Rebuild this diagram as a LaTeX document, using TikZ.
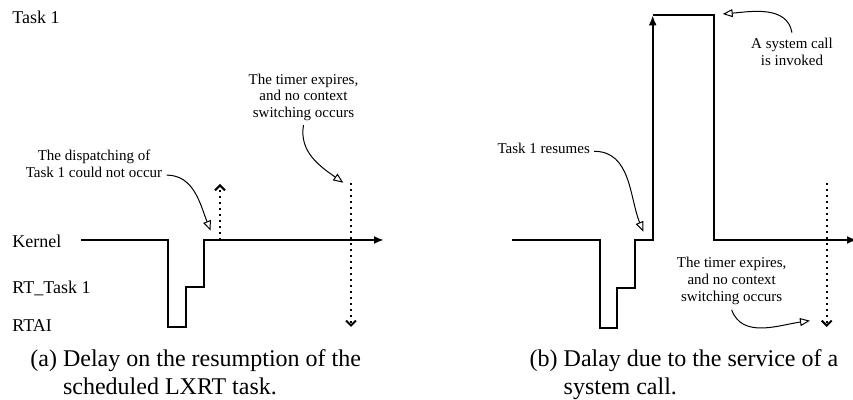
\documentclass[tikz,border=0pt]{standalone}
\usepackage{fontspec}
\setmainfont{Liberation Serif}
\usetikzlibrary{arrows.meta,positioning,calc}
\tikzset{%
  font=\fontsize{9}{10.8}\selectfont,>=Latex,
  lvl/.style     = {anchor=base west, inner sep=0pt},
  wave/.style    = {draw, line width=1pt, -{Latex[length=5pt,width=4pt]}},
  timer/.style   = {draw, line width=1pt, dotted, -{Straight Barb[length=2.5pt,width=5pt]}},
  note/.style    = {align=center, inner sep=0pt, font=\fontsize{7.5}{8.35}\selectfont},
  pointer/.style = {draw, line width=.5pt, -{Triangle[open,length=5pt,width=4pt]}},
  capt/.style    = {anchor=base west, inner sep=0pt, font=\fontsize{12}{14}\selectfont}
}

\begin{document}
\begin{tikzpicture}[x=.5pt,y=-.5pt]
  \useasboundingbox (0,0) rectangle (853,400);

  % (a) the dispatching is delayed
  \node[lvl] (task) at (12,23.3) {Task 1};
  \node[lvl] (kern) at (12,247.3) {Kernel};
  \node[lvl] (rtt)  at (12,294) {RT\_Task 1};
  \node[lvl] (rtai) at (12,331.7) {RTAI};

  \draw[wave] (81,240) -- (167.5,240) -- (167.5,327.5) -- (185.5,327.5)
    -- (185.5,287.5) -- (204,287.5) -- (204,240) -- (384,240);
  \draw[timer] (220,240) -- (220,184);
  \draw[timer] (351,183) -- (351,327);

  \node[note] (disp) at (94,164) {The dispatching of\\Task 1 could not occur};
  \node[note] (expa) at (303.5,97.3) {The timer expires,\\and no context\\switching occurs};
  \coordinate (disptip) at (210.7,230.7);
  \coordinate (expatip) at (343.3,182.7);
  \draw[pointer] ([xshift=2pt,yshift=1.5pt]disp.south east) to[out=0,in=112] (disptip);
  \draw[pointer] ([yshift=-2pt]expa.south) to[out=-100,in=145] (expatip);

  \node[capt] (capa) at (30,366.7) {\begin{tabular}[t]{@{}l@{\ }l@{}}(a) & Delay on the resumption of the\\ & scheduled LXRT task.\end{tabular}};

  % (b) a system call is served
  \draw[wave] (512.3,240) -- (600.3,240) -- (600.3,327.7) -- (617.3,327.7)
    -- (617.3,287.7) -- (634.7,287.7) -- (634.7,240) -- (652.7,240) -- (652.7,15.3);
  \draw[wave] (652.7,15.3) -- (713.7,15.3) -- (713.7,240) -- (857,240);
  \draw[timer] (826.7,183) -- (826.7,327);

  \node[note] (sysc) at (792,51.7) {A system call\\is invoked};
  \node[note] (resm) at (543.7,148.3) {Task 1 resumes};
  \node[note] (expb) at (731.7,281) {The timer expires,\\and no context\\switching occurs};
  \coordinate (sysctip) at (722.7,14);
  \coordinate (resmtip) at (643.3,231.7);
  \coordinate (expbtip) at (810,320.7);
  \draw[pointer] ([yshift=2.5pt]sysc.north) to[out=100,in=5] (sysctip);
  \draw[pointer] ([xshift=2pt,yshift=-1.5pt]resm.east) to[out=0,in=112] (resmtip);
  \draw[pointer] ([yshift=-2.5pt]expb.south) to[out=-70,in=188] (expbtip);

  \node[capt] (capb) at (529.3,366.7) {\begin{tabular}[t]{@{}l@{\ }l@{}}(b) & Dalay due to the service of a\\ & system call.\end{tabular}};
\end{tikzpicture}
\end{document}
